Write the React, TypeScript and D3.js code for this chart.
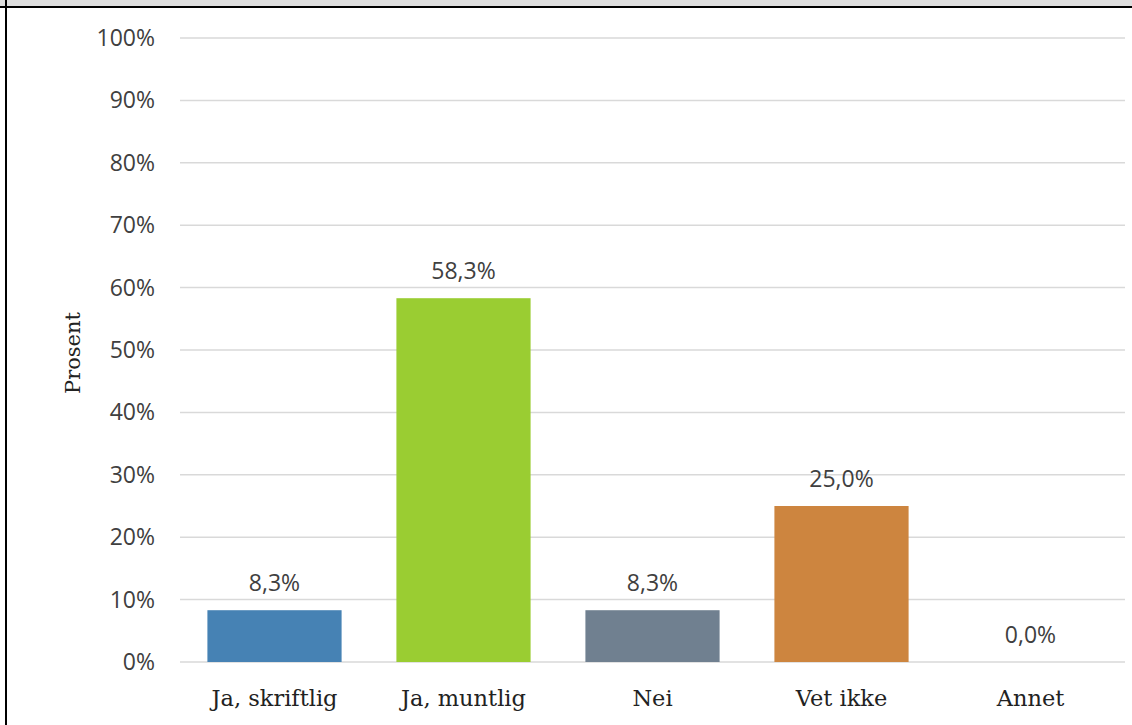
import React from "react";
import * as d3 from "d3";

const categories = ["Ja, skriftlig", "Ja, muntlig", "Nei", "Vet ikke", "Annet"];
const values = [8.3, 58.3, 8.3, 25.0, 0.0];
const colors = ["#4682B4", "#9ACD32", "#708090", "#CD853F", "#A0A0A0"];
const yTicks = [0, 10, 20, 30, 40, 50, 60, 70, 80, 90, 100];
const yLabel = "Prosent";

const W = 1132;
const H = 725;
const plot = { left: 180, right: 1125, top: 38, bottom: 662 };

export default function App() {
  const x = d3
    .scaleBand<string>()
    .domain(categories)
    .range([plot.left, plot.right])
    .paddingInner(0.29)
    .paddingOuter(0.145);
  const y = d3.scaleLinear().domain([0, 100]).range([plot.bottom, plot.top]);
  const fmt = (v: number) => v.toFixed(1).replace(".", ",") + "%";
  const sans = "'Open Sans', 'DejaVu Sans', sans-serif";
  const serif = "'DejaVu Serif', 'Liberation Serif', serif";

  return (
    <div style={{ position: "absolute", left: 0, top: 0 }}>
      <svg width={W} height={H} style={{ display: "block", background: "#fff" }}>
        <rect x={0} y={0} width={W} height={7} fill="#dedede" />
        <line x1={0} x2={W} y1={7} y2={7} stroke="#000" strokeWidth={2} />
        <line x1={6} x2={6} y1={0} y2={H} stroke="#000" strokeWidth={2} />
        {yTicks.map((t) => (
          <g key={t}>
            <line
              x1={plot.left}
              x2={plot.right}
              y1={y(t)}
              y2={y(t)}
              stroke="#d9d9d9"
              strokeWidth={1.5}
            />
            <text
              x={155}
              y={y(t) + 8}
              textAnchor="end"
              fontFamily={sans}
              fontSize={23}
              fill="#404040"
            >
              {t}%
            </text>
          </g>
        ))}
        <text
          transform={`translate(80,${(plot.top + plot.bottom) / 2 + 3}) rotate(-90)`}
          textAnchor="middle"
          fontFamily={serif}
          fontSize={21}
          fill="#222"
        >
          {yLabel}
        </text>
        {categories.map((c, i) => (
          <g key={c}>
            {values[i] > 0 && (
              <rect
                x={x(c)!}
                y={y(values[i])}
                width={x.bandwidth()}
                height={y(0) - y(values[i])}
                fill={colors[i]}
              />
            )}
            <text
              x={x(c)! + x.bandwidth() / 2}
              y={y(values[i]) - 19}
              textAnchor="middle"
              fontFamily={sans}
              fontSize={23}
              fill="#404040"
            >
              {fmt(values[i])}
            </text>
            <text
              x={x(c)! + x.bandwidth() / 2}
              y={plot.bottom + 44}
              textAnchor="middle"
              fontFamily={serif}
              fontSize={22.5}
              fill="#222"
            >
              {c}
            </text>
          </g>
        ))}
      </svg>
    </div>
  );
}
